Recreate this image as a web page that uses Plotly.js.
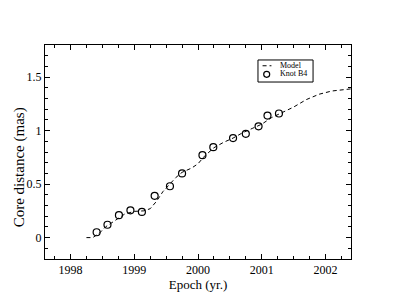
<!DOCTYPE html>
<html>
<head>
<meta charset="utf-8">
<script src="https://cdn.plot.ly/plotly-3.0.1.min.js"></script>
<style>html,body{margin:0;padding:0;background:#fff;}#chart{width:395px;height:305px;}</style>
</head>
<body>
<div id="chart"></div>
<script>
const modelEpoch = [1998.25, 1998.35, 1998.45, 1998.55, 1998.7, 1998.85, 1999.0, 1999.15, 1999.25, 1999.35, 1999.45, 1999.55, 1999.65, 1999.75, 1999.9, 2000.0, 2000.1, 2000.25, 2000.4, 2000.55, 2000.7, 2000.85, 2001.0, 2001.15, 2001.3, 2001.5, 2001.7, 2001.9, 2002.1, 2002.4];
const modelDist  = [0.0, 0.0, 0.04, 0.1, 0.16, 0.22, 0.245, 0.25, 0.27, 0.34, 0.43, 0.5, 0.56, 0.61, 0.65, 0.69, 0.76, 0.84, 0.89, 0.93, 0.98, 1.02, 1.06, 1.12, 1.16, 1.22, 1.29, 1.34, 1.37, 1.39];
const knotEpoch = [1998.41, 1998.58, 1998.76, 1998.94, 1999.12, 1999.32, 1999.56, 1999.75, 2000.07, 2000.24, 2000.55, 2000.75, 2000.95, 2001.09, 2001.27];
const knotDist  = [0.05, 0.12, 0.21, 0.255, 0.24, 0.39, 0.48, 0.60, 0.77, 0.845, 0.93, 0.97, 1.04, 1.14, 1.16];
const legendLabels = ['Model', 'Knot B4'];
const xTitle = 'Epoch (yr.)';
const yTitle = 'Core distance (mas)';

const FONT = 'Liberation Serif';
const traces = [
  {x: modelEpoch, y: modelDist, mode: 'lines', name: legendLabels[0],
   line: {color: '#000', width: 1, dash: '4px,3px'}},
  {x: knotEpoch, y: knotDist, mode: 'markers', name: legendLabels[1],
   marker: {symbol: 'circle-open', size: 7, color: '#000', line: {width: 1.2, color: '#000'}}}
];
const axisCommon = {
  showgrid: false, zeroline: false, showline: true, linecolor: '#000', linewidth: 1,
  mirror: 'ticks', ticks: 'inside', ticklen: 5, tickcolor: '#000', tickwidth: 1,
  tickfont: {family: FONT, size: 12, color: '#000'}
};
// hand-built legend (paper coordinates)
const lg = {x0: 0.696, x1: 0.876, y0: 0.827, y1: 0.930};
const shapes = [
  {type: 'rect', xref: 'paper', yref: 'paper', x0: lg.x0, x1: lg.x1, y0: lg.y0, y1: lg.y1,
   line: {color: '#000', width: 1}, fillcolor: '#fff'},
  {type: 'line', xref: 'paper', yref: 'paper', x0: 0.711, x1: 0.740, y0: 0.903, y1: 0.903,
   line: {color: '#000', width: 1, dash: '4px,3px'}},
  {type: 'circle', xref: 'paper', yref: 'paper', x0: 0.7147, x1: 0.7343, y0: 0.849, y1: 0.877,
   line: {color: '#000', width: 1.2}}
];
const annotations = legendLabels.map((t, i) => ({
  text: t, xref: 'paper', yref: 'paper', x: 0.762, y: i === 0 ? 0.905 : 0.865,
  xanchor: 'left', yanchor: 'middle', showarrow: false,
  font: {family: FONT, size: 8, color: '#000'}
}));
annotations.push({
  text: yTitle, xref: 'paper', yref: 'paper', x: -0.082, y: 0.428,
  xanchor: 'center', yanchor: 'middle', textangle: -90, showarrow: false,
  font: {family: FONT, size: 15, color: '#000'}
});
const layout = {
  width: 395, height: 305,
  margin: {l: 45, r: 44, t: 45, b: 46},
  paper_bgcolor: '#fff', plot_bgcolor: '#fff',
  font: {family: FONT, color: '#000'},
  showlegend: false,
  shapes: shapes, annotations: annotations,
  xaxis: Object.assign({}, axisCommon, {
    range: [1997.6, 2002.4], tickmode: 'linear', tick0: 1998, dtick: 1,
    minor: {ticks: 'inside', ticklen: 3, dtick: 0.25, tick0: 1998, tickcolor: '#000'},
    title: {text: xTitle, font: {family: FONT, size: 13, color: '#000'}, standoff: 0}
  }),
  yaxis: Object.assign({}, axisCommon, {
    range: [-0.2, 1.8], tickmode: 'linear', tick0: 0, dtick: 0.5,
    minor: {ticks: 'inside', ticklen: 3, dtick: 0.1, tick0: 0, tickcolor: '#000'}
  })
};
Plotly.newPlot('chart', traces, layout, {staticPlot: true, displayModeBar: false});
</script>
</body>
</html>
